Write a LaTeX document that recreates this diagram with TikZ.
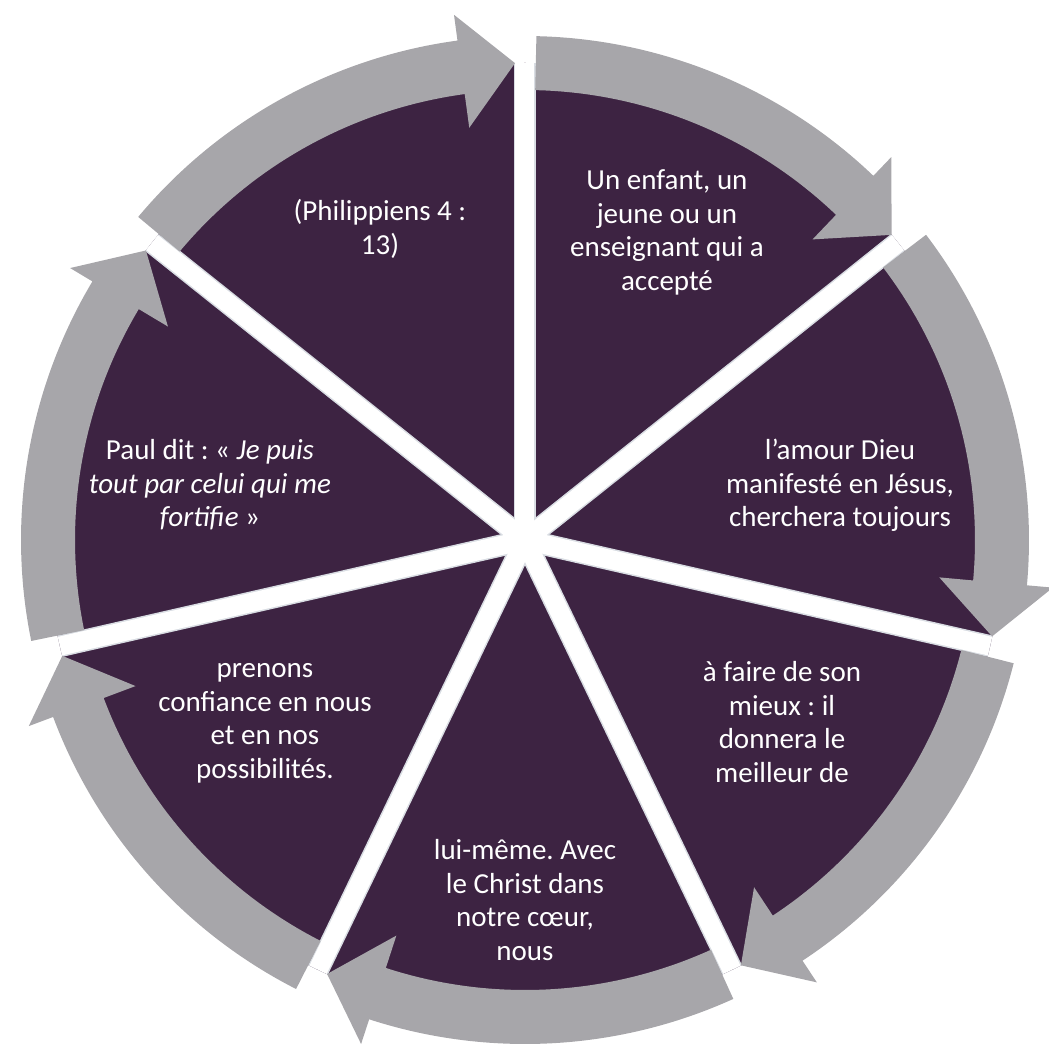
\documentclass[tikz,border=0pt]{standalone}
\usepackage{fontspec}
\setmainfont{Carlito}

\definecolor{plum}{HTML}{3D2342}
\definecolor{ringgrey}{HTML}{A7A6AA}
\definecolor{gapedge}{HTML}{D9DDE3}

\begin{document}
\frenchspacing
\begin{tikzpicture}[x=1pt,y=1pt,
        %Styles
        Label/.style={
            text=white,
            align=center,
            inner sep=0pt,
            font=\fontsize{29}{33.5}\selectfont,
            execute at begin node=\strut,
            execute at end node=\strut,
        },
        Arrow/.style={fill=ringgrey},
    ]

\useasboundingbox (-525,-510) rectangle (524,540);

%pie
\fill[plum] (0,0) coordinate (c) circle (477);

%white gaps between the slices
\foreach \k in {0,...,6}
  \draw[gapedge, line width=22] (c) -- (90-\k*360/7:477);
\foreach \k in {0,...,6}
  \draw[white, line width=19] (c) -- (90-\k*360/7:477);

%circular arrows
\foreach \k in {0,...,6}{
  \pgfmathsetmacro\s{90-\k*360/7-1.3}
  \pgfmathsetmacro\t{90-(\k+1)*360/7+1.2}
  \pgfmathsetmacro\b{\t+6.5}
  \fill[Arrow] (\s:450) arc[start angle=\s, end angle=\b, radius=450]
    -- (\b:416) -- (\t:477) -- (\b:530) -- (\b:504)
    arc[start angle=\b, end angle=\s, radius=504] -- cycle;
}

%texts
\node[Label] (s1) at (142,305) {Un enfant, un\\jeune ou un\\enseignant qui a\\accepté};
\node[Label] (s2) at (315,52) {l’amour Dieu\\manifesté en Jésus,\\cherchera toujours};
\node[Label] (s3) at (257,-187) {à faire de son\\mieux : il\\donnera le\\meilleur de};
\node[Label] (s4) at (0,-365) {lui-même. Avec\\le Christ dans\\notre cœur,\\nous};
\node[Label] (s5) at (-260,-186) {prenons\\confiance en nous\\et en nos\\possibilités.};
\node[Label] (s6) at (-315,52) {Paul dit : «~\textit{Je puis}\\\textit{tout par celui qui me}\\\textit{fortifie}~»};
\node[Label] (s7) at (-145,308) {(Philippiens 4 :\\13)};

\end{tikzpicture}
\end{document}
